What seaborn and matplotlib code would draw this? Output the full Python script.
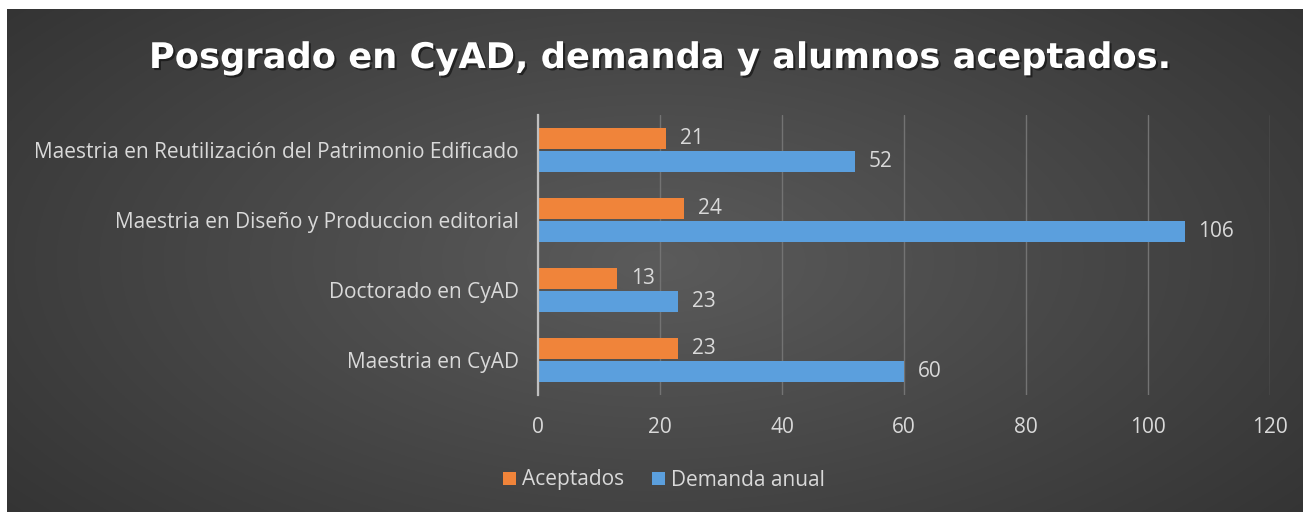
import numpy as np
import pandas as pd
import matplotlib
matplotlib.use("Agg")
import matplotlib.pyplot as plt
import matplotlib.patheffects as pe
import seaborn as sns

categories = ["Maestria en Reutilización del Patrimonio Edificado",
              "Maestria en Diseño y Produccion editorial",
              "Doctorado en CyAD",
              "Maestria en CyAD"]
aceptados = [21, 24, 13, 23]
demanda = [52, 106, 23, 60]
series_names = ["Aceptados", "Demanda anual"]
xticks = [0, 20, 40, 60, 80, 100, 120]
title = "Posgrado en CyAD, demanda y alumnos aceptados."

df = pd.DataFrame({
    "Programa": categories * 2,
    "Serie": [series_names[0]] * len(categories) + [series_names[1]] * len(categories),
    "Valor": aceptados + demanda,
})

sns.set_theme(style="dark")
plt.rcParams['font.family'] = ['Open Sans', 'DejaVu Sans']

W, H = 1304, 512
fig = plt.figure(figsize=(W / 100, H / 100), dpi=100, facecolor="white")

# background radial gradient
bg = fig.add_axes([7 / W, 0, (W - 8) / W, (H - 9) / H], zorder=-5)
yy, xx = np.mgrid[0:300, 0:800]
cx, cy = 400, 150
r = np.sqrt(((xx - cx) / 700.0) ** 2 + ((yy - cy) / 330.0) ** 2)
r = np.clip(r, 0, 1)
c0 = np.array([0x5b, 0x5b, 0x5b]) / 255
c1 = np.array([0x26, 0x26, 0x26]) / 255
img = c0[None, None, :] * (1 - r[..., None]) + c1[None, None, :] * r[..., None]
bg.imshow(img, aspect="auto", extent=[0, 1, 0, 1])
bg.set_axis_off()

ax = fig.add_axes([538 / W, 1 - 395 / H, (1270 - 538) / W, 280 / H])
ax.set_facecolor("none")
palette = {"Aceptados": "#F0843A", "Demanda anual": "#5B9FDD"}
sns.barplot(data=df, y="Programa", x="Valor", hue="Serie", order=categories,
            hue_order=series_names, palette=palette, orient="h",
            width=0.68, gap=0.12, saturation=1, ax=ax, legend=True,
            edgecolor="none")

for cont in ax.containers:
    ax.bar_label(cont, padding=10, color="#d9d9d9", fontsize=15)

ax.set_xlim(0, 120)
ax.set_xticks(xticks)
ax.set_xticklabels([str(t) for t in xticks], color="#d9d9d9", fontsize=15)
ax.tick_params(axis="x", length=0, pad=16)
ax.tick_params(axis="y", length=0, pad=14, labelcolor="#d9d9d9", labelsize=15)
ax.set_xlabel("")
ax.set_ylabel("")
ax.grid(axis="x", color="#737373", linewidth=1)
ax.grid(axis="y", visible=False)
for s in ["top", "right", "bottom"]:
    ax.spines[s].set_visible(False)
ax.spines["left"].set_color("#bfbfbf")
ax.spines["left"].set_linewidth(1.6)
ax.set_axisbelow(True)

leg = ax.legend(loc="center", bbox_to_anchor=(664 / W, 1 - 480 / H),
                bbox_transform=fig.transFigure, ncol=2, frameon=False,
                fontsize=15, handlelength=0.6, handleheight=0.6,
                handletextpad=0.3, columnspacing=1.35)
for t in leg.get_texts():
    t.set_color("#d9d9d9")

fig.text(660 / W, 1 - 58 / H, title, ha="center", va="center",
         color="white", fontsize=25.4, fontweight="bold",
         family=["DejaVu Sans"],
         path_effects=[pe.withSimplePatchShadow(offset=(1.5, -1.5), shadow_rgbFace="black", alpha=0.5)])

fig.savefig("out.png", dpi=100, facecolor="white")
